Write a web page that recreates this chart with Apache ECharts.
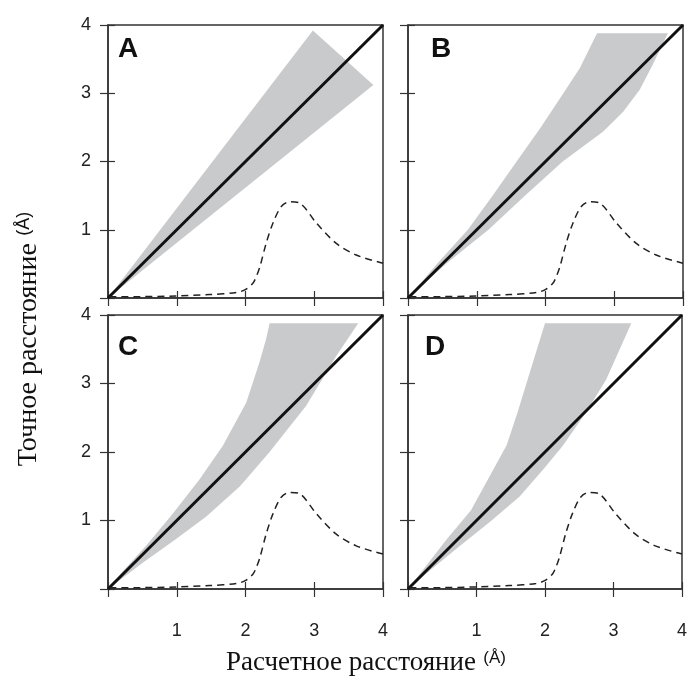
<!DOCTYPE html>
<html>
<head>
<meta charset="utf-8">
<title>ECharts</title>
<script src="https://cdn.jsdelivr.net/npm/echarts@6/dist/echarts.min.js"></script>
</head>
<body style="margin:0">
	<div id="main" style="width: 690px; height: 684px;"></div>
	<script type="text/javascript">
		// panel letters and tick labels
		var panelNames = ['A', 'B', 'C', 'D'];
		var tickLabels = ['1', '2', '3', '4'];
		var xTitle = 'Расчетное расстояние';
		var yTitle = 'Точное расстояние';
		var unit = '(Å)';

		// diagonal y = x
		var diagX = [0, 4];
		var diagY = [0, 4];

		// dashed curve, same in every panel
		var curveX = [0.02, 0.46, 0.99, 1.48, 1.87, 2.01, 2.11, 2.16, 2.21, 2.30, 2.40, 2.52, 2.64, 2.79, 3.03, 3.32, 3.61, 4.0];
		var curveY = [0.02, 0.02, 0.03, 0.05, 0.08, 0.13, 0.22, 0.32, 0.46, 0.80, 1.10, 1.34, 1.41, 1.39, 1.10, 0.80, 0.63, 0.51];

		// grey bands: upper edge and lower edge, each from the origin
		var bandAUpper = [[0, 0], [2.98, 3.92]];
		var bandALower = [[0, 0], [3.86, 3.12]];
		var bandBUpper = [[0, 0], [0.42, 0.5], [0.87, 1.0], [1.23, 1.5], [1.58, 2.0], [1.93, 2.5], [2.26, 3.0], [2.5, 3.37], [2.75, 3.88]];
		var bandBLower = [[0, 0], [0.55, 0.5], [1.17, 1.0], [1.7, 1.5], [2.25, 2.0], [2.84, 2.44], [3.13, 2.73], [3.37, 3.05], [3.55, 3.4], [3.78, 3.88]];
		var bandCUpper = [[0, 0], [0.2, 0.24], [0.56, 0.64], [0.95, 1.11], [1.33, 1.6], [1.67, 2.09], [2.01, 2.72], [2.2, 3.3], [2.3, 3.65], [2.35, 3.88]];
		var bandCLower = [[0, 0], [0.5, 0.38], [0.95, 0.7], [1.43, 1.06], [1.92, 1.5], [2.35, 2.0], [2.88, 2.67], [3.32, 3.4], [3.64, 3.88]];
		var bandDUpper = [[0, 0], [0.22, 0.28], [0.56, 0.72], [0.92, 1.15], [1.2, 1.66], [1.44, 2.1], [1.6, 2.58], [1.79, 3.2], [2.0, 3.88]];
		var bandDLower = [[0, 0], [0.32, 0.27], [0.72, 0.6], [1.22, 1.0], [1.63, 1.35], [1.97, 1.74], [2.26, 2.09], [2.6, 2.58], [2.89, 3.05], [3.26, 3.88]];

		var bands = [
			[bandAUpper, bandALower],
			[bandBUpper, bandBLower],
			[bandCUpper, bandCLower],
			[bandDUpper, bandDLower]
		];

		// layout of the 4 panels
		var grids = [
			{ left: 108, top: 25, width: 275, height: 273 },
			{ left: 408, top: 25, width: 275, height: 273 },
			{ left: 108, top: 315, width: 275, height: 274 },
			{ left: 408, top: 315, width: 275, height: 274 }
		];
		var letterPos = [[118, 49], [431, 49], [118, 347], [425, 347]];

		var lineColor = '#333';
		var labelFont = { fontFamily: 'Liberation Sans', fontSize: 18, color: '#222' };

		function zip(xs, ys) {
			return xs.map(function (x, i) { return [x, ys[i]]; });
		}

		var xAxes = [], yAxes = [], series = [], graphics = [];

		grids.forEach(function (g, i) {
			g.show = true;
			g.borderColor = lineColor;
			g.borderWidth = 1.5;
			g.containLabel = false;

			var showX = i >= 2, showY = i % 2 === 0;
			var fmt = function (v) { return v === 0 ? '' : tickLabels[v - 1]; };

			// axis with outer ticks and labels
			xAxes.push({
				gridIndex: i, type: 'value', min: 0, max: 4, interval: 1,
				axisLine: { lineStyle: { color: lineColor, width: 1.5 } },
				axisTick: { inside: false, length: 8, lineStyle: { color: lineColor, width: 1.2 } },
				axisLabel: Object.assign({ show: showX, margin: 33, formatter: fmt }, labelFont),
				splitLine: { show: false }
			});
			// same axis, inner half of the ticks
			xAxes.push({
				gridIndex: i, type: 'value', min: 0, max: 4, interval: 1, position: 'bottom',
				axisLine: { show: false },
				axisTick: { inside: true, length: 7, lineStyle: { color: lineColor, width: 1.2 } },
				axisLabel: { show: false },
				splitLine: { show: false }
			});
			yAxes.push({
				gridIndex: i, type: 'value', min: 0, max: 4, interval: 1,
				axisLine: { lineStyle: { color: lineColor, width: 1.5 } },
				axisTick: { inside: false, length: 8, lineStyle: { color: lineColor, width: 1.2 } },
				axisLabel: Object.assign({ show: showY, margin: 17, formatter: fmt }, labelFont),
				splitLine: { show: false }
			});
			yAxes.push({
				gridIndex: i, type: 'value', min: 0, max: 4, interval: 1, position: 'left',
				axisLine: { show: false },
				axisTick: { inside: true, length: 7, lineStyle: { color: lineColor, width: 1.2 } },
				axisLabel: { show: false },
				splitLine: { show: false }
			});

			var poly = bands[i][0].concat(bands[i][1].slice().reverse());
			series.push({
				type: 'custom',
				xAxisIndex: 2 * i, yAxisIndex: 2 * i,
				data: poly,
				silent: true,
				z: 1,
				renderItem: function (params, api) {
					if (params.dataIndex !== 0) return;
					return {
						type: 'polygon',
						shape: { points: poly.map(function (p) { return api.coord(p); }) },
						style: { fill: '#c9cacc' }
					};
				}
			});
			series.push({
				type: 'line',
				xAxisIndex: 2 * i, yAxisIndex: 2 * i,
				data: zip(diagX, diagY),
				showSymbol: false, symbol: 'none',
				lineStyle: { color: '#111', width: 3 },
				z: 3
			});
			series.push({
				type: 'line',
				xAxisIndex: 2 * i, yAxisIndex: 2 * i,
				data: zip(curveX, curveY),
				smooth: 0.3,
				showSymbol: false, symbol: 'none',
				lineStyle: { color: '#222', width: 1.5, type: [7, 5] },
				z: 3
			});

			graphics.push({
				type: 'text',
				x: letterPos[i][0], y: letterPos[i][1],
				style: {
					text: panelNames[i],
					fontFamily: 'Liberation Sans', fontWeight: 'bold', fontSize: 28,
					fill: '#111', verticalAlign: 'middle'
				}
			});
		});

		var xRich = {
			a: { fontFamily: 'Liberation Serif', fontSize: 27, fill: '#111' },
			b: { fontFamily: 'Liberation Sans', fontSize: 17, fill: '#111', padding: [0, 0, 9, 4] }
		};
		var yRich = {
			a: { fontFamily: 'Liberation Serif', fontSize: 28, fill: '#111' },
			b: { fontFamily: 'Liberation Sans', fontSize: 18, fill: '#111', padding: [0, 0, 9, 4] }
		};
		graphics.push({
			type: 'text', x: 366, y: 663,
			style: { text: '{a|' + xTitle + '} {b|' + unit + '}', rich: xRich, align: 'center', verticalAlign: 'middle' }
		});
		graphics.push({
			type: 'text', x: 29, y: 339, rotation: Math.PI / 2,
			style: { text: '{a|' + yTitle + '} {b|' + unit + '}', rich: yRich, align: 'center', verticalAlign: 'middle' }
		});

		var myChart = echarts.init(document.getElementById('main'));
		myChart.setOption({
			animation: false,
			backgroundColor: '#fff',
			grid: grids,
			xAxis: xAxes,
			yAxis: yAxes,
			series: series,
			graphic: graphics
		});
	</script>
</body>
</html>
